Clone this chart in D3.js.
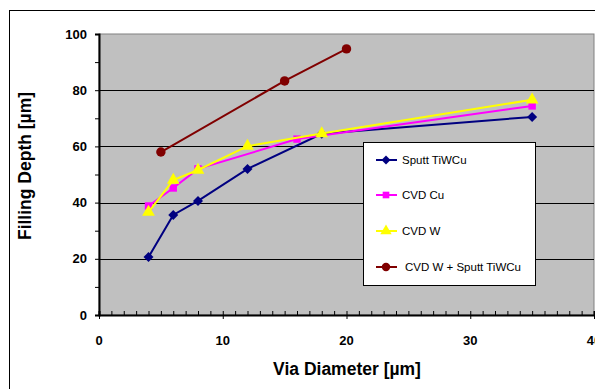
<!DOCTYPE html>
<html>
<head>
<meta charset="utf-8">
<script src="https://cdn.jsdelivr.net/npm/d3@7"></script>
<style>
  body { margin: 0; background: #fff; }
  text { font-family: Arial, "Liberation Sans", sans-serif; }
</style>
</head>
<body>
<script>
// series data: via diameter [um] vs filling depth [um]
var sputtX = [4, 6, 8, 12, 18, 35];
var sputtY = [20.6, 35.6, 40.6, 52, 64.5, 70.5];
var cvdCuX = [4, 6, 8, 16, 35];
var cvdCuY = [38.8, 45.2, 52, 62.6, 74.4];
var cvdWX = [4, 6, 8, 12, 18, 35];
var cvdWY = [36.6, 48, 51.6, 60.1, 64.6, 76.6];
var comboX = [5, 15, 20];
var comboY = [58, 83.3, 94.7];

var seriesNames = ["Sputt TiWCu", "CVD Cu", "CVD W", "CVD W + Sputt TiWCu"];
var xTicks = [0, 10, 20, 30, 40];
var yTicks = [0, 20, 40, 60, 80, 100];

var width = 595, height = 389;
var plot = {left: 99, top: 34, right: 594, bottom: 315};

var svg = d3.select("body").append("svg")
  .attr("width", width)
  .attr("height", height);

// outer chart border
svg.append("rect")
  .attr("x", 9.5).attr("y", 10.5)
  .attr("width", 600).attr("height", 400)
  .attr("fill", "#fff").attr("stroke", "#000").attr("stroke-width", 1);

var x = d3.scaleLinear().domain([0, 40]).range([plot.left, plot.right]);
var y = d3.scaleLinear().domain([0, 100]).range([plot.bottom, plot.top]);

// plot area
svg.append("rect")
  .attr("x", plot.left).attr("y", plot.top)
  .attr("width", plot.right - plot.left).attr("height", plot.bottom - plot.top)
  .attr("fill", "#c0c0c0").attr("stroke", "#808080").attr("stroke-width", 1);

// gridlines
svg.append("g").selectAll("line")
  .data(yTicks.filter(function(d) { return d > 0 && d < 100; }))
  .enter().append("line")
  .attr("x1", plot.left).attr("x2", plot.right)
  .attr("y1", function(d) { return Math.round(y(d)) + 0.5; })
  .attr("y2", function(d) { return Math.round(y(d)) + 0.5; })
  .attr("stroke", "#000").attr("stroke-width", 1);

// y axis
var yAxis = svg.append("g")
  .attr("transform", "translate(" + plot.left + ",0)")
  .call(d3.axisLeft(y).tickValues(d3.range(0, 101, 10)).tickSize(4).tickFormat(""));
yAxis.select(".domain").attr("stroke", "#000").attr("stroke-width", 2);

svg.append("g").selectAll("text")
  .data(yTicks).enter().append("text")
  .attr("x", 87).attr("y", function(d) { return y(d); })
  .attr("dy", "0.36em")
  .attr("text-anchor", "end")
  .attr("font-size", 13).attr("font-weight", "bold")
  .text(function(d) { return d; });

// x axis: minor ticks inside, major ticks crossing
var xAxis = svg.append("g")
  .attr("transform", "translate(0," + plot.bottom + ")")
  .call(d3.axisTop(x).tickValues(d3.range(0, 41, 1)).tickSize(4).tickFormat(""));
xAxis.select(".domain").attr("stroke", "#000").attr("stroke-width", 2);
svg.append("g")
  .attr("transform", "translate(0," + plot.bottom + ")")
  .call(d3.axisBottom(x).tickValues(xTicks).tickSize(4).tickFormat(""))
  .select(".domain").remove();

svg.append("g").selectAll("text")
  .data(xTicks).enter().append("text")
  .attr("x", function(d) { return x(d); }).attr("y", 340)
  .attr("dy", "0.36em")
  .attr("text-anchor", "middle")
  .attr("font-size", 13).attr("font-weight", "bold")
  .text(function(d) { return d; });

// axis titles
svg.append("text")
  .attr("x", 347).attr("y", 369).attr("dy", "0.36em")
  .attr("text-anchor", "middle")
  .attr("font-size", 17.5).attr("font-weight", "bold")
  .text("Via Diameter [µm]");
svg.append("text")
  .attr("transform", "translate(25,166) rotate(-90)")
  .attr("dy", "0.36em")
  .attr("text-anchor", "middle")
  .attr("font-size", 17.5).attr("font-weight", "bold")
  .text("Filling Depth [µm]");

// diamond = square turned 45 degrees
var series = [
  {name: seriesNames[0], xs: sputtX, ys: sputtY, color: "#000080", symbol: d3.symbolSquare, size: 50, rot: 45},
  {name: seriesNames[1], xs: cvdCuX, ys: cvdCuY, color: "#ff00ff", symbol: d3.symbolSquare, size: 55, rot: 0},
  {name: seriesNames[2], xs: cvdWX, ys: cvdWY, color: "#ffff00", symbol: d3.symbolTriangle, size: 70, rot: 0},
  {name: seriesNames[3], xs: comboX, ys: comboY, color: "#800000", symbol: d3.symbolCircle, size: 70, rot: 0}
];

var line = d3.line()
  .x(function(d) { return x(d[0]); })
  .y(function(d) { return y(d[1]); });

series.forEach(function(s) {
  var pts = s.xs.map(function(v, i) { return [v, s.ys[i]]; });
  svg.append("path")
    .attr("d", line(pts))
    .attr("fill", "none").attr("stroke", s.color).attr("stroke-width", 2);
  svg.append("g").selectAll("path")
    .data(pts).enter().append("path")
    .attr("d", d3.symbol().type(s.symbol).size(s.size))
    .attr("transform", function(d) { return "translate(" + x(d[0]) + "," + y(d[1]) + ") rotate(" + s.rot + ")"; })
    .attr("fill", s.color);
});

// legend
var legend = svg.append("g");
legend.append("rect")
  .attr("x", 363.5).attr("y", 142.5)
  .attr("width", 172).attr("height", 143)
  .attr("fill", "#fff").attr("stroke", "#000").attr("stroke-width", 1);

var legendY = [160, 195, 231, 267];
series.forEach(function(s, i) {
  var g = legend.append("g").attr("transform", "translate(0," + legendY[i] + ")");
  g.append("line")
    .attr("x1", 376).attr("x2", 397)
    .attr("stroke", s.color).attr("stroke-width", 2);
  g.append("path")
    .attr("d", d3.symbol().type(s.symbol).size(s.size * 0.8))
    .attr("transform", "translate(386,0) rotate(" + s.rot + ")")
    .attr("fill", s.color);
  g.append("text")
    .attr("x", i == 3 ? 405 : 402).attr("dy", "0.36em")
    .attr("font-size", 11.5)
    .text(s.name);
});
</script>
</body>
</html>
